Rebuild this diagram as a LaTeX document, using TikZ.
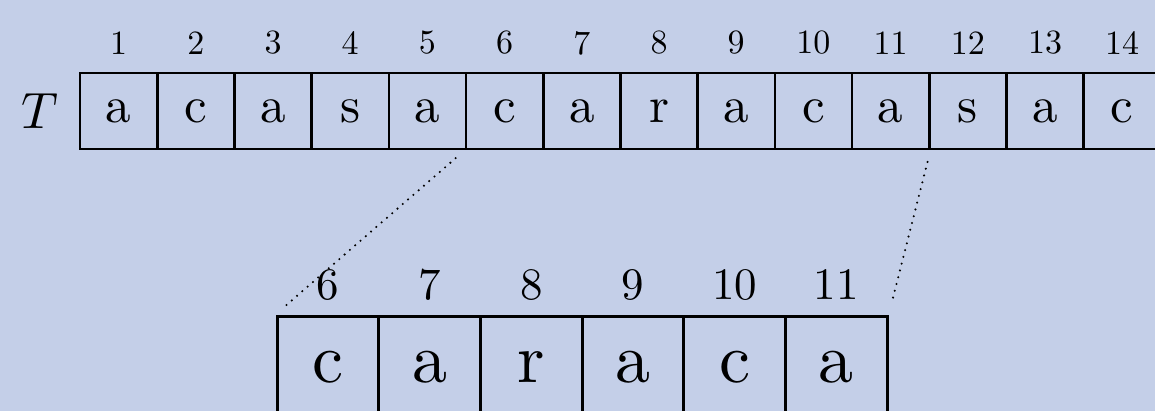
\documentclass[tikz,border=0pt]{standalone}
\usepackage{graphicx}
\definecolor{bgc}{RGB}{196,207,232}
\tikzset{
  topcell/.style={draw, line width=2.6pt, minimum width=77.2pt, minimum height=76pt, inner sep=0pt},
  botcell/.style={draw, line width=3pt, minimum width=101.7pt, minimum height=102pt, inner sep=0pt},
  plain/.style={inner sep=0pt},
  zoomline/.style={line width=2.3pt, line cap=round, dash pattern=on 0pt off 7pt, shorten >=12pt, shorten <=12pt}
}
\begin{document}
\begin{tikzpicture}[x=1pt,y=-1pt]
\useasboundingbox (0,0) rectangle (1155,411);
\clip (0,0) rectangle (1155,411);
\fill[bgc] (0,0) rectangle (1155,411);
\node[plain] (T) at (40,111) {\scalebox{5.1}{$T$}};
\foreach \ch [count=\i] in {a,c,a,s,a,c,a,r,a,c,a,s,a,c} {
  \node[topcell] (t\i) at ({80+77.2*(\i-0.5)},111) {\scalebox{5.1}{\ch}};
  \node[plain] (n\i) at ({80+77.2*(\i-0.5)},43) {\scalebox{3.4}{\i}};
}
\foreach \ch [count=\k] in {c,a,r,a,c,a} {
  \pgfmathtruncatemacro{\idx}{\k+5}
  \node[botcell] (b\idx) at ({277+101.7*(\k-0.5)},367) {\scalebox{7.0}{\ch}};
  \node[plain] (m\idx) at ({277+101.7*(\k-0.5)},285) {\scalebox{4.5}{\idx}};
}
\draw[zoomline] (t6.south west) -- (b6.north west);
\draw[zoomline] (t11.south east) -- (b11.north east);
\end{tikzpicture}
\end{document}
